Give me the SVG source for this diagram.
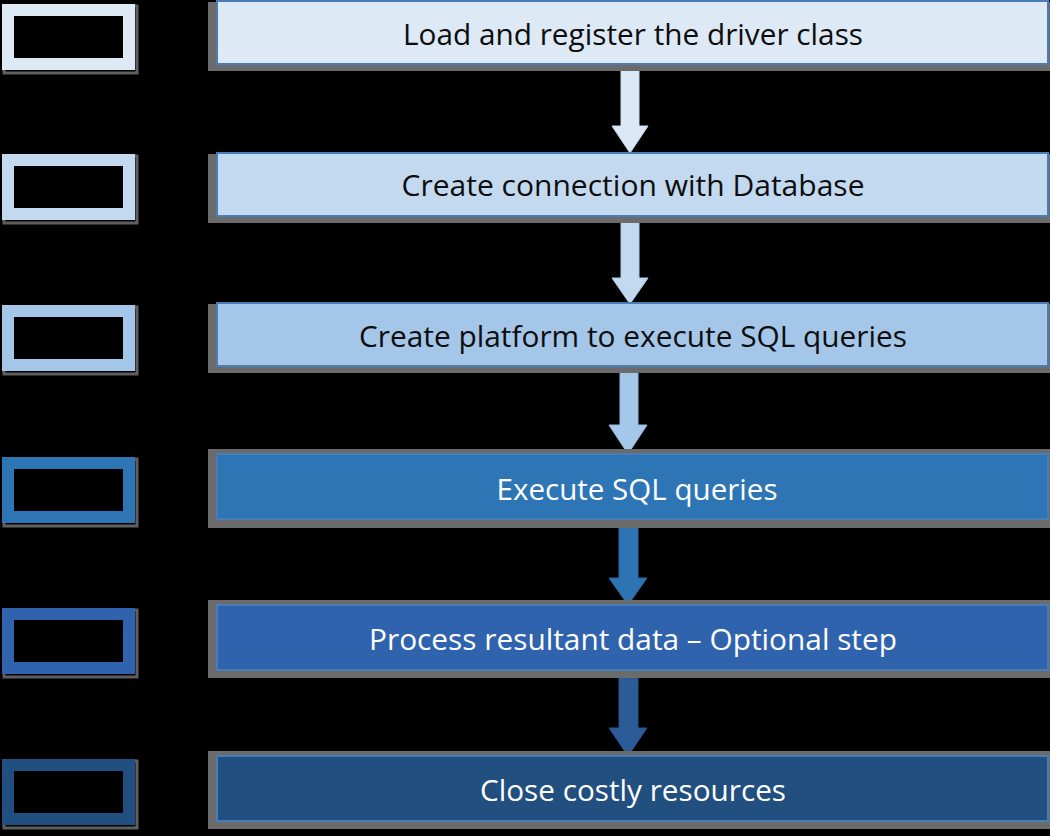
<svg xmlns="http://www.w3.org/2000/svg" width="1050" height="836" viewBox="0 0 1050 836">
<style>
.shadow{fill:#6b6b6b}
.box{stroke:#4a7db5;stroke-width:2}
.lbl{font-family:"Open Sans","Liberation Sans",sans-serif;font-size:29px;text-anchor:middle}
.dark{fill:#0d0d0d}
.light{fill:#ffffff}
.frame{fill:#000000;stroke-width:12}
.fshadow{fill:none;stroke:#5f5f5f;stroke-width:3}
</style>
<rect x="0" y="0" width="1050" height="836" fill="#000000"/>

<g id="connectors">
  <path d="M621,64 L639,64 L639,126 L648,126 L630,153 L612,126 L621,126 Z" fill="#dce8f5" stroke="#c9dcef" stroke-width="1"/>
  <path d="M621,216 L639,216 L639,278 L648,278 L630,304 L612,278 L621,278 Z" fill="#c3d9ef" stroke="#b0cde9" stroke-width="1"/>
  <path d="M620,367 L638,367 L638,425 L647,425 L628,454 L609,425 L620,425 Z" fill="#a5c7e9" stroke="#92bbe3" stroke-width="1"/>
  <path d="M619,519 L638,519 L638,578 L647,578 L628,605 L609,578 L619,578 Z" fill="#2e74b5" stroke="#2a69a6" stroke-width="1"/>
  <path d="M619,670 L638,670 L638,728 L647,728 L628,756 L609,728 L619,728 Z" fill="#2b5c98" stroke="#26538a" stroke-width="1"/>
</g>

<g id="step1">
  <rect class="shadow" x="208" y="2" width="842" height="69"/>
  <rect class="box" x="217" y="1" width="831" height="63" fill="#dde9f5"/>
  <text class="lbl dark" x="633" y="45" textLength="460" lengthAdjust="spacingAndGlyphs">Load and register the driver class</text>
</g>
<g id="step2">
  <rect class="shadow" x="208" y="154" width="842" height="69"/>
  <rect class="box" x="217" y="153" width="831" height="63" fill="#c2d9ef"/>
  <text class="lbl dark" x="633" y="196" textLength="463" lengthAdjust="spacingAndGlyphs">Create connection with Database</text>
</g>
<g id="step3">
  <rect class="shadow" x="208" y="304" width="842" height="69"/>
  <rect class="box" x="217" y="303" width="831" height="63" fill="#a4c6e8"/>
  <text class="lbl dark" x="633" y="347" textLength="548" lengthAdjust="spacingAndGlyphs">Create platform to execute SQL queries</text>
</g>
<g id="step4">
  <rect class="shadow" x="208" y="449" width="842" height="79"/>
  <rect class="box" x="217" y="454" width="831" height="65" fill="#2e75b6"/>
  <text class="lbl light" x="637" y="500" textLength="281" lengthAdjust="spacingAndGlyphs">Execute SQL queries</text>
</g>
<g id="step5">
  <rect class="shadow" x="208" y="600" width="842" height="78"/>
  <rect class="box" x="217" y="605" width="831" height="65" fill="#2f63ad"/>
  <text class="lbl light" x="633" y="650" textLength="528" lengthAdjust="spacingAndGlyphs">Process resultant data – Optional step</text>
</g>
<g id="step6">
  <rect class="shadow" x="208" y="751" width="842" height="78"/>
  <rect class="box" x="217" y="756" width="831" height="65" fill="#214f80"/>
  <text class="lbl light" x="633" y="801" textLength="306" lengthAdjust="spacingAndGlyphs">Close costly resources</text>
</g>

<g id="marker1">
  <rect class="fshadow" x="4" y="6" width="133" height="67"/>
  <rect class="frame" x="8" y="10" width="121" height="54" stroke="#dde9f5"/>
</g>
<g id="marker2">
  <rect class="fshadow" x="4" y="156" width="133" height="67"/>
  <rect class="frame" x="8" y="160" width="121" height="54" stroke="#c2d9ef"/>
</g>
<g id="marker3">
  <rect class="fshadow" x="4" y="307" width="133" height="67"/>
  <rect class="frame" x="8" y="311" width="121" height="54" stroke="#a4c6e8"/>
</g>
<g id="marker4">
  <rect class="fshadow" x="4" y="459" width="133" height="67"/>
  <rect class="frame" x="8" y="463" width="121" height="54" stroke="#2e75b6"/>
</g>
<g id="marker5">
  <rect class="fshadow" x="4" y="610" width="133" height="67"/>
  <rect class="frame" x="8" y="614" width="121" height="54" stroke="#2f63ad"/>
</g>
<g id="marker6">
  <rect class="fshadow" x="4" y="761" width="133" height="67"/>
  <rect class="frame" x="8" y="765" width="121" height="54" stroke="#214f80"/>
</g>
</svg>
